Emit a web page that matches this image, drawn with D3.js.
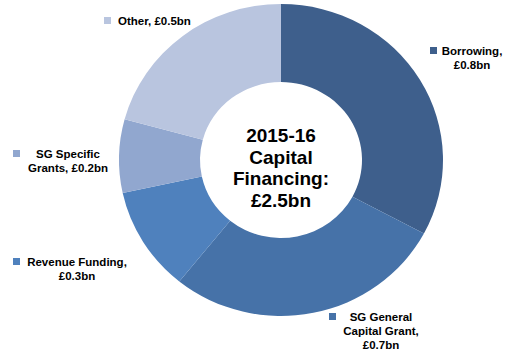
<!DOCTYPE html>
<html><head><meta charset="utf-8">
<script src="https://cdn.jsdelivr.net/npm/d3@7"></script>
<style>body{margin:0;background:#fff}svg{display:block}</style>
</head><body>
<script>
const categories = ["Borrowing", "SG General Capital Grant", "Revenue Funding", "SG Specific Grants", "Other"];
const values = [0.82, 0.70, 0.27, 0.19, 0.52];
const labelLines = [
  ["Borrowing,", "£0.8bn"],
  ["SG General", "Capital Grant,", "£0.7bn"],
  ["Revenue Funding,", "£0.3bn"],
  ["SG Specific", "Grants, £0.2bn"],
  ["Other, £0.5bn"]
];
const colors = ["#3E5F8C", "#4672A8", "#4F81BD", "#91A7CF", "#B9C5DF"];
const centerLines = ["2015-16", "Capital", "Financing:", "£2.5bn"];

const W = 516, H = 357;
const svg = d3.select("body").append("svg").attr("width", W).attr("height", H);
const cx = 281, cy = 160, R = 162, ry = 156;
const g = svg.append("g").attr("transform", `translate(${cx},${cy}) scale(1,${ry / R})`);
const pie = d3.pie().sort(null).value(d => d);
const arc = d3.arc().innerRadius(81).outerRadius(R);
g.selectAll("path").data(pie(values)).join("path")
  .attr("d", arc).attr("fill", (d, i) => colors[i]);

// center text
const ct = svg.append("text").attr("text-anchor", "middle")
  .attr("font-family", "Liberation Sans, Arial, sans-serif")
  .attr("font-weight", "bold").attr("font-size", 19).attr("fill", "#000");
centerLines.forEach((t, i) => ct.append("tspan").attr("x", cx).attr("y", 142 + i * 21.5).text(t));

// labels: [square x, square y, text center x, first baseline]
const labelPos = [
  [430, 47, 472, 55],
  [329, 313, 381, 321],
  [13, 258, 77, 266],
  [13, 150, 68, 158],
  [104, 17, 0, 25]
];
labelLines.forEach((lines, i) => {
  const p = labelPos[i];
  svg.append("rect").attr("x", p[0]).attr("y", p[1]).attr("width", 7).attr("height", 7).attr("fill", colors[i]);
  const t = svg.append("text").attr("font-family", "Liberation Sans, Arial, sans-serif")
    .attr("font-weight", "bold").attr("font-size", 11.5).attr("fill", "#000");
  if (lines.length === 1) {
    t.attr("x", p[0] + 14).attr("y", p[3]).text(lines[0]);
  } else {
    t.attr("text-anchor", "middle");
    lines.forEach((l, j) => t.append("tspan").attr("x", p[2]).attr("y", p[3] + j * 14).text(l));
  }
});
</script>
</body></html>
